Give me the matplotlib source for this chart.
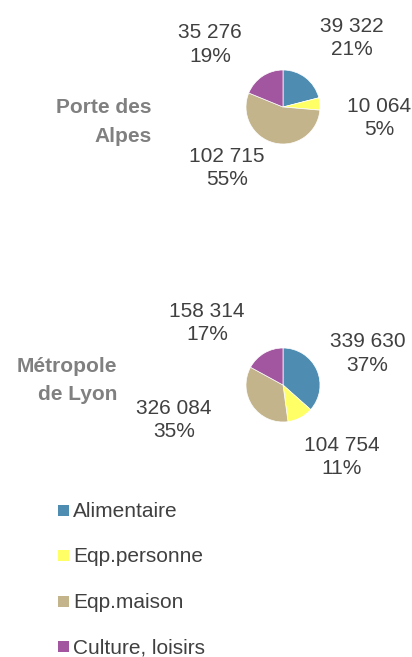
import matplotlib.pyplot as plt
from matplotlib.patches import Rectangle

plt.rcParams['font.family'] = ['Liberation Sans', 'DejaVu Sans']

categories = ['Alimentaire', 'Eqp.personne', 'Eqp.maison', 'Culture, loisirs']
colors = ['#4E8DB1', '#FFFF66', '#C3B48C', '#A2569F']

regions = ['Porte des\nAlpes', 'Métropole\nde Lyon']
values_porte = [39322, 10064, 102715, 35276]
values_lyon = [339630, 104754, 326084, 158314]
pcts_porte = [21, 5, 55, 19]
pcts_lyon = [37, 11, 35, 17]

W, H = 412, 657
fig = plt.figure(figsize=(W / 100, H / 100), dpi=100)
ax = fig.add_axes([0, 0, 1, 1])

def fmt(v):
    return f"{v:,}".replace(',', ' ')

# pie layouts in pixels: center, region label anchor, label positions per slice
layouts = [
    dict(center=(283, 107), region_xy=(152, 122), region_ls=1.7,
         label_pos=[(352, 38), (379, 118), (227, 168), (210, 44.5)]),
    dict(center=(283, 385), region_xy=(117, 381), region_ls=1.6,
         label_pos=[(367.5, 353.5), (342, 457), (174, 420), (207, 323)]),
]

for name, vals, pcts, lay in zip(regions, [values_porte, values_lyon],
                                 [pcts_porte, pcts_lyon], layouts):
    cx, cy = lay['center']
    # y axis inverted -> counterclock=True draws clockwise on screen
    ax.pie(vals, colors=colors, center=(cx, cy), radius=37,
           startangle=-90, counterclock=True, frame=True,
           wedgeprops=dict(linewidth=0.5, edgecolor='white'))
    for v, p, (tx, ty) in zip(vals, pcts, lay['label_pos']):
        ax.text(tx, ty, f"{fmt(v)}\n{p}%", ha='center', va='center',
                fontsize=15, color='#404040', linespacing=1.33)
    rx, ry = lay['region_xy']
    ax.text(rx, ry, name, ha='right', va='center', fontsize=15,
            fontweight='bold', color='#808080', linespacing=lay['region_ls'],
            multialignment='right')

ax.set_xlim(0, W)
ax.set_ylim(H, 0)
ax.set_aspect('equal')
ax.axis('off')

legend_y = [517, 562, 608, 653]
for cat, col, ly in zip(categories, colors, legend_y):
    ax.add_patch(Rectangle((58, ly - 12), 11, 11, facecolor=col, edgecolor='none'))
    ax.text(73, ly, cat, ha='left', va='baseline', fontsize=15, color='#404040')

fig.savefig('out.png', dpi=100)
